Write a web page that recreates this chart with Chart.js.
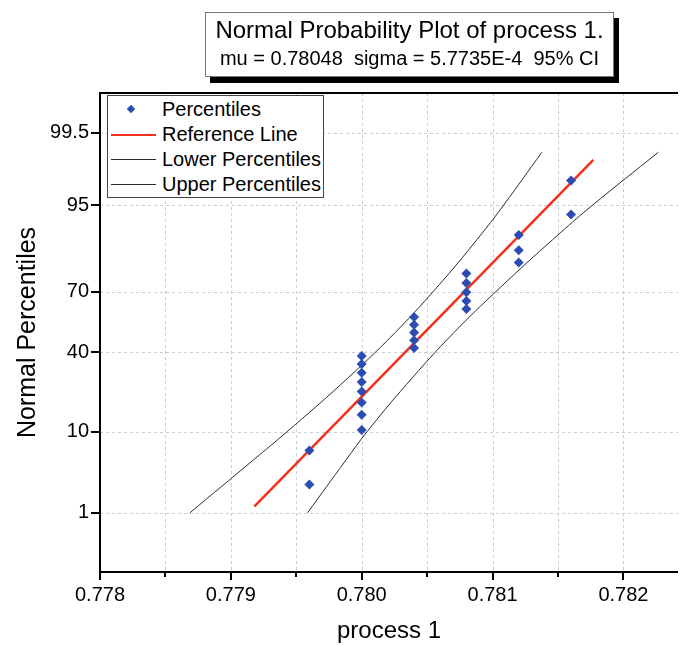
<!DOCTYPE html>
<html>
<head>
<meta charset="utf-8">
<script src="https://cdn.jsdelivr.net/npm/chart.js@4.4.0/dist/chart.umd.min.js"></script>
<style>
  html, body { margin: 0; padding: 0; background: #fff; overflow: hidden; }
  #wrap { position: relative; width: 683px; height: 646px; overflow: hidden; font-family: "Liberation Sans", Arial, sans-serif; color: #000; }
  #chart { position: absolute; left: 0; top: 0; }
  #plotTitle {
    position: absolute; left: 205px; top: 12px; width: 407px; height: 63px;
    border: 1px solid #777; background: #fff; box-shadow: 5px 6px 0 #000;
  }
  #plotTitle div { position: absolute; left: 0; right: 0; text-align: center; white-space: pre; }
  #plotTitle .t1 { top: 5px; font-size: 24px; line-height: 24px; }
  #plotTitle .t2 { top: 35px; font-size: 20px; line-height: 20px; }
  #legend {
    position: absolute; left: 107px; top: 95px; width: 215px; height: 101px;
    border: 1px solid #444; background: #fff;
  }
  #legend .row { position: absolute; left: 0; height: 25px; width: 215px; font-size: 20px; line-height: 25px; }
  #legend .row span { position: absolute; left: 54px; top: 0; white-space: nowrap; }
  #legend .sym { position: absolute; left: 3px; top: 12px; width: 45px; height: 0; }
  #legend .diamond { position: absolute; left: 20px; top: 9px; width: 6px; height: 6px; background: #2b4db3; transform: rotate(45deg); }
</style>
</head>
<body>
<div id="wrap">
  <canvas id="chart" width="683" height="646"></canvas>
  <div id="plotTitle">
    <div class="t1">Normal Probability Plot of process 1.</div>
    <div class="t2">mu = 0.78048  sigma = 5.7735E-4  95% CI</div>
  </div>
  <div id="legend"></div>
</div>
<script>
// data
const processValues = [
  0.7796, 0.7796,
  0.7800, 0.7800, 0.7800, 0.7800, 0.7800, 0.7800, 0.7800, 0.7800,
  0.7804, 0.7804, 0.7804, 0.7804, 0.7804,
  0.7808, 0.7808, 0.7808, 0.7808, 0.7808,
  0.7812, 0.7812, 0.7812,
  0.7816, 0.7816
];
const percentiles = [
  2.5, 6.4,
  10.4, 14.4, 18.3, 22.3, 26.2, 30.2, 34.2, 38.1,
  42.1, 46.0, 50.0, 54.0, 57.9,
  61.9, 65.8, 69.8, 73.8, 77.7,
  81.7, 85.6, 89.6,
  93.6, 97.5
];
const refLineX = [0.77918, 0.78177];
const refLineP = [1.24, 98.7];

const bandP = [1, 5, 10, 25, 50, 75, 90, 95, 99];
const lowerBandX = [0.779586, 0.779880, 0.780040, 0.780340, 0.780705, 0.781118, 0.781515, 0.781765, 0.782267];
const upperBandX = [0.778687, 0.779172, 0.779428, 0.779838, 0.780256, 0.780622, 0.780920, 0.781085, 0.781377];

const yTickValues = [1, 10, 40, 70, 95, 99.5];
const yTickLabels = ['1', '10', '40', '70', '95', '99.5'];
const xTickValues = [0.778, 0.7785, 0.779, 0.7795, 0.780, 0.7805, 0.781, 0.7815, 0.782];
const xMajorLabels = ['0.778', '0.779', '0.780', '0.781', '0.782'];

const seriesNames = ['Percentiles', 'Reference Line', 'Lower Percentiles', 'Upper Percentiles'];
const pointBlue = '#2b4db3';
const refRed = '#f5301c';
const bandColor = '#2b2b2b';

// inverse normal cdf (probability axis)
function probit(p) {
  const a = [-3.969683028665376e+01, 2.209460984245205e+02, -2.759285104469687e+02, 1.383577518672690e+02, -3.066479806614716e+01, 2.506628277459239e+00];
  const b = [-5.447609879822406e+01, 1.615858368580409e+02, -1.556989798598866e+02, 6.680131188771972e+01, -1.328068155288572e+01];
  const c = [-7.784894002430293e-03, -3.223964580411365e-01, -2.400758277161838e+00, -2.549732539343734e+00, 4.374664141464968e+00, 2.938163982698783e+00];
  const d = [7.784695709041462e-03, 3.224671290700398e-01, 2.445134137142996e+00, 3.754408661907416e+00];
  const pLow = 0.02425;
  let q, r;
  if (p < pLow) {
    q = Math.sqrt(-2 * Math.log(p));
    return (((((c[0]*q + c[1])*q + c[2])*q + c[3])*q + c[4])*q + c[5]) / ((((d[0]*q + d[1])*q + d[2])*q + d[3])*q + 1);
  }
  if (p <= 1 - pLow) {
    q = p - 0.5; r = q * q;
    return (((((a[0]*r + a[1])*r + a[2])*r + a[3])*r + a[4])*r + a[5]) * q / (((((b[0]*r + b[1])*r + b[2])*r + b[3])*r + b[4])*r + 1);
  }
  q = Math.sqrt(-2 * Math.log(1 - p));
  return -(((((c[0]*q + c[1])*q + c[2])*q + c[3])*q + c[4])*q + c[5]) / ((((d[0]*q + d[1])*q + d[2])*q + d[3])*q + 1);
}

function toPoints(xs, ps) {
  return xs.map((x, i) => ({ x: x, y: probit(ps[i] / 100) }));
}

// legend built as html
const legendEl = document.getElementById('legend');
seriesNames.forEach((name, i) => {
  const row = document.createElement('div');
  row.className = 'row';
  row.style.top = (1 + i * 25) + 'px';
  let sym;
  if (i === 0) {
    sym = '<div class="diamond"></div>';
  } else {
    const col = i === 1 ? refRed : bandColor;
    const w = i === 1 ? 2 : 1;
    sym = '<div class="sym" style="border-top:' + w + 'px solid ' + col + '"></div>';
  }
  row.innerHTML = sym + '<span>' + name + '</span>';
  legendEl.appendChild(row);
});

// gridlines, frame and tick marks
const framePlugin = {
  id: 'framePlugin',
  beforeDatasetsDraw(chart) {
    const { ctx, chartArea: a, scales: { x, y } } = chart;
    ctx.save();
    ctx.strokeStyle = '#c3d0da';
    ctx.lineWidth = 1;
    ctx.setLineDash([3, 3]);
    xTickValues.slice(1).forEach(v => {
      const px = Math.round(x.getPixelForValue(v)) + 0.5;
      ctx.beginPath(); ctx.moveTo(px, a.top); ctx.lineTo(px, a.bottom); ctx.stroke();
    });
    yTickValues.forEach(p => {
      const py = Math.round(y.getPixelForValue(probit(p / 100))) + 0.5;
      ctx.beginPath(); ctx.moveTo(a.left, py); ctx.lineTo(a.right, py); ctx.stroke();
    });
    ctx.restore();
  },
  afterDatasetsDraw(chart) {
    const { ctx, chartArea: a, scales: { x, y } } = chart;
    ctx.save();
    ctx.strokeStyle = '#000';
    ctx.lineWidth = 2;
    ctx.setLineDash([]);
    ctx.beginPath();
    ctx.moveTo(a.right, a.top); ctx.lineTo(a.left, a.top);
    ctx.lineTo(a.left, a.bottom); ctx.lineTo(a.right, a.bottom);
    ctx.stroke();
    xTickValues.forEach((v, i) => {
      const px = Math.round(x.getPixelForValue(v));
      const len = i % 2 === 0 ? 8 : 5;
      ctx.beginPath(); ctx.moveTo(px, a.bottom); ctx.lineTo(px, a.bottom + len); ctx.stroke();
    });
    yTickValues.forEach(p => {
      const py = Math.round(y.getPixelForValue(probit(p / 100)));
      ctx.beginPath(); ctx.moveTo(a.left, py); ctx.lineTo(a.left - 9, py); ctx.stroke();
    });
    ctx.restore();
  }
};

const tickFont = { family: '"Liberation Sans", Arial, sans-serif', size: 20 };

new Chart(document.getElementById('chart').getContext('2d'), {
  type: 'scatter',
  data: {
    datasets: [
      {
        label: seriesNames[0],
        data: toPoints(processValues, percentiles),
        pointStyle: 'rectRot',
        pointRadius: 5,
        backgroundColor: pointBlue,
        borderColor: pointBlue,
        borderWidth: 0,
        order: 0
      },
      {
        label: seriesNames[1],
        data: toPoints(refLineX, refLineP),
        showLine: true,
        pointRadius: 0,
        borderColor: refRed,
        borderWidth: 2.5,
        order: 1
      },
      {
        label: seriesNames[2],
        data: toPoints(lowerBandX, bandP),
        showLine: true,
        pointRadius: 0,
        borderColor: bandColor,
        borderWidth: 1,
        tension: 0.4,
        order: 2
      },
      {
        label: seriesNames[3],
        data: toPoints(upperBandX, bandP),
        showLine: true,
        pointRadius: 0,
        borderColor: bandColor,
        borderWidth: 1,
        tension: 0.4,
        order: 2
      }
    ]
  },
  options: {
    responsive: false,
    animation: false,
    layout: { padding: { top: 93, right: 0, bottom: 0, left: 0 } },
    plugins: {
      legend: { display: false },
      title: { display: false },
      tooltip: { enabled: false }
    },
    scales: {
      x: {
        type: 'linear',
        min: 0.778,
        max: 0.782417,
        afterBuildTicks: s => { s.ticks = xTickValues.map(v => ({ value: v })); },
        afterFit: s => { s.height = 74; },
        grid: { drawOnChartArea: false, drawTicks: true, tickLength: 8, color: 'rgba(0,0,0,0)' },
        border: { display: false },
        ticks: {
          autoSkip: false,
          maxRotation: 0,
          padding: 3,
          color: '#000',
          font: tickFont,
          callback: (v, i) => (i % 2 === 0 ? xMajorLabels[i / 2] : '')
        },
        title: {
          display: true,
          text: 'process 1',
          color: '#000',
          font: { family: '"Liberation Sans", Arial, sans-serif', size: 24 },
          padding: { top: 0, bottom: 0 }
        }
      },
      y: {
        type: 'linear',
        min: probit(0.001),
        max: probit(0.999),
        afterBuildTicks: s => { s.ticks = yTickValues.map(p => ({ value: probit(p / 100) })); },
        afterFit: s => { s.width = 100; },
        grid: { drawOnChartArea: false, drawTicks: true, tickLength: 8, color: 'rgba(0,0,0,0)' },
        border: { display: false },
        ticks: {
          autoSkip: false,
          padding: 3,
          color: '#000',
          font: tickFont,
          callback: (v, i) => yTickLabels[i]
        },
        title: {
          display: true,
          text: 'Normal Percentiles',
          color: '#000',
          font: { family: '"Liberation Sans", Arial, sans-serif', size: 25 },
          padding: { top: 13, bottom: 0 }
        }
      }
    }
  },
  plugins: [framePlugin]
});
</script>
</body>
</html>
